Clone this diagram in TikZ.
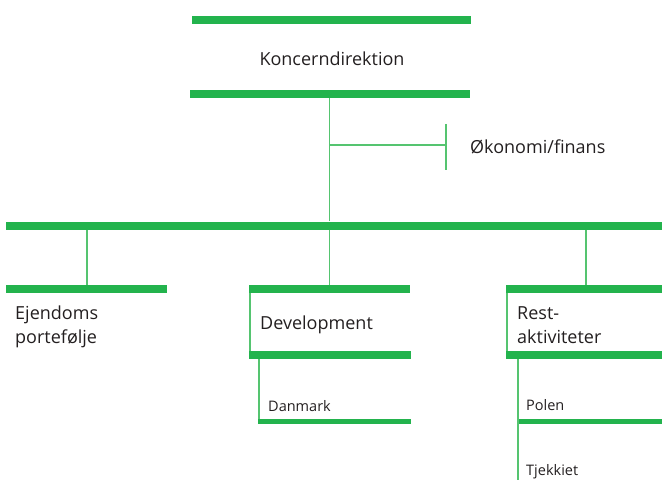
\documentclass[tikz,border=0pt]{standalone}
\usepackage{fontspec}
\setmainfont{Open Sans}
\definecolor{barg}{RGB}{35,179,77}
\definecolor{lineg}{RGB}{85,196,112}
\definecolor{txt}{RGB}{35,31,32}
\begin{document}
\begin{tikzpicture}[x=1pt,y=-1pt,
  bar/.style={fill=barg,draw=none,inner sep=0pt,minimum height=8pt,anchor=west},
  sbar/.style={fill=barg,draw=none,inner sep=0pt,minimum height=5pt,anchor=west},
  conn/.style={draw=lineg,line width=1.5pt},
  lbl/.style={text=txt,inner sep=0pt,font=\fontsize{18}{24}\selectfont,anchor=base west},
  slbl/.style={text=txt,inner sep=0pt,font=\fontsize{14.5}{16}\selectfont,anchor=base west}]
\useasboundingbox (0,0) rectangle (662,480);
% top
\node[bar,minimum width=279pt] (top1) at (192,20) {};
\node[lbl,anchor=base] (kd) at (332,65) {Koncerndirektion};
\node[bar,minimum width=280pt] (top2) at (190,94) {};
% okonomi
\coordinate (okoj) at (329.5,145);
\node[inner sep=0pt,minimum width=0pt,minimum height=46pt] (tick) at (446,147) {};
\draw[conn] (tick.north) -- (tick.south);
\draw[conn] (okoj) -- (okoj -| tick.center);
\node[lbl] (oko) at (470,153) {Økonomi/finans};
% big bar
\node[bar,minimum width=656pt] (big) at (6,225.5) {};
\draw[conn] (top2.south -| okoj) -- (big.north -| okoj);
% level 2 bars
\node[bar,minimum width=161pt] (ejbar) at (6,289) {};
\node[bar,minimum width=161pt] (devbar) at (249,289) {};
\node[bar,minimum width=156pt] (restbar) at (506,289) {};
\draw[conn] (big.south -| 87,0) -- (ejbar.north -| 87,0);
\draw[conn] (big.south -| okoj) -- (devbar.north -| okoj);
\draw[conn] (big.south -| 586,0) -- (restbar.north -| 586,0);
\node[lbl] (ej1) at (15,319) {Ejendoms};
\node[lbl] (ej2) at (15,343) {portefølje};
\node[lbl] (dev) at (260,329) {Development};
\node[lbl] (rest1) at (517,319) {Rest-};
\node[lbl] (rest2) at (517,343) {aktiviteter};
% bottom bars
\node[bar,minimum width=162pt] (devbot) at (249,355) {};
\node[bar,minimum width=156pt] (restbot) at (506,355) {};
\draw[conn] (devbar.south -| 250,0) -- (devbot.north -| 250,0);
\draw[conn] (restbar.south -| 506.75,0) -- (restbot.north -| 506.75,0);
% level 3
\node[sbar,minimum width=153pt] (danbar) at (258,421.5) {};
\node[sbar,minimum width=145pt] (polbar) at (517,421.5) {};
\draw[conn] (devbot.south -| 258.75,0) -- (danbar.north -| 258.75,0);
\coordinate (polend) at (517.75,480);
\draw[conn] (restbot.south -| polend) -- (polend);
\node[slbl] (dan) at (268,411) {Danmark};
\node[slbl] (pol) at (526,410) {Polen};
\node[slbl] (tje) at (526,475) {Tjekkiet};
\end{tikzpicture}
\end{document}
